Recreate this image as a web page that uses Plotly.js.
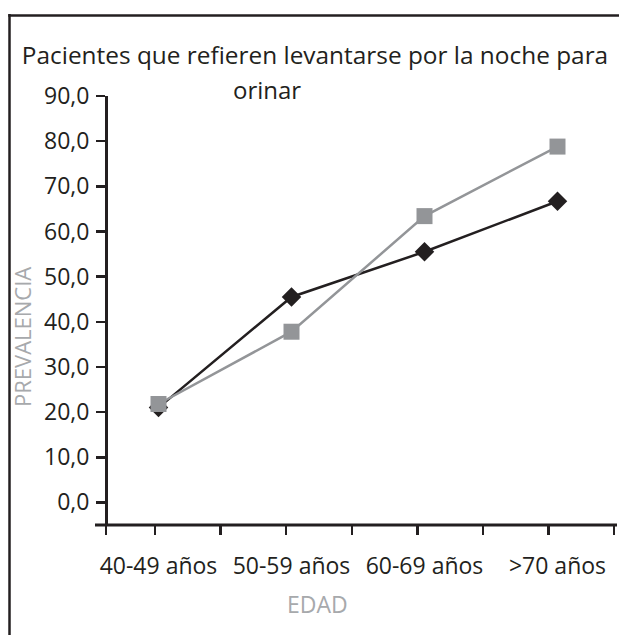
<!DOCTYPE html>
<html>
<head>
<meta charset="utf-8">
<script src="https://cdn.plot.ly/plotly-3.0.1.min.js"></script>
<style>
  html, body { margin: 0; padding: 0; background: #fff; overflow: hidden; }
  #chart { width: 619px; height: 635px; }
</style>
</head>
<body>
<div id="chart"></div>
<script>
const categorias = ['40-49 años', '50-59 años', '60-69 años', '>70 años'];
const serieNegra = [21.0, 45.5, 55.5, 66.7];
const serieGris = [21.8, 37.8, 63.4, 78.8];
const yTicks = [0, 10, 20, 30, 40, 50, 60, 70, 80, 90];
const tituloLinea1 = 'Pacientes que refieren levantarse por la noche para';
const tituloLinea2 = 'orinar';
const tituloY = 'PREVALENCIA';
const tituloX = 'EDAD';

const negro = '#231f20';
const gris = '#939598';
const grisTexto = '#a7a9ac';
const fuente = 'Open Sans, Lato, sans-serif';

// plot area: x from 95 to 619 px, y from 96 to 525 px
const L = 95, R = 619, T = 96, B = 525, W = 619, H = 635;
const pw = R - L, ph = B - T;
const px = v => (v - L) / pw;       // page pixel -> paper x
const py = v => (B - v) / ph;       // page pixel -> paper y

// x-axis tick marks (separate axis, pixel-offset units from the left edge)
const tickMarks = [11, 60, 125.6, 191.2, 256.8, 322.4, 388, 453.6, 519.2];

const traces = [
  {
    x: categorias, y: serieNegra, type: 'scatter', mode: 'lines+markers',
    line: { color: negro, width: 2.5 },
    marker: { symbol: 'diamond', size: 15, color: negro },
    showlegend: false, hoverinfo: 'skip'
  },
  {
    x: categorias, y: serieGris, type: 'scatter', mode: 'lines+markers',
    line: { color: gris, width: 2.5 },
    marker: { symbol: 'square', size: 16, color: gris },
    showlegend: false, hoverinfo: 'skip'
  },
  { x: [], y: [], xaxis: 'x2', yaxis: 'y', type: 'scatter', mode: 'markers', showlegend: false, hoverinfo: 'skip' }
];

const layout = {
  width: W, height: H,
  margin: { l: L, r: W - R, t: T, b: H - B, pad: 0 },
  paper_bgcolor: '#ffffff', plot_bgcolor: 'rgba(0,0,0,0)',
  separators: ',.',
  font: { family: fuente, color: negro, size: 20 },
  showlegend: false,
  title: {
    text: tituloLinea1,
    font: { family: fuente, size: 24.4, color: negro },
    x: 315 / W, xanchor: 'center', xref: 'container',
    y: 1 - 55 / H, yanchor: 'middle', yref: 'container'
  },
  xaxis: {
    type: 'category',
    range: [-(158.5 - L) / 133, -(158.5 - L) / 133 + pw / 133],
    showline: false, ticks: '', showgrid: false, zeroline: false,
    tickfont: { family: fuente, size: 23, color: negro },
    ticklabelstandoff: 25,
    fixedrange: true
  },
  xaxis2: {
    overlaying: 'x', anchor: 'y', side: 'bottom',
    range: [0, pw],
    tickmode: 'array', tickvals: tickMarks,
    showticklabels: false,
    ticks: 'outside', ticklen: 9, tickwidth: 2.5, tickcolor: negro,
    showline: false,
    showgrid: false, zeroline: false, fixedrange: true
  },
  yaxis: {
    range: [-5, 90],
    anchor: 'free', position: (106 - L) / pw,
    tickmode: 'array', tickvals: yTicks, tickformat: '.1f',
    ticks: 'outside', ticklen: 9, tickwidth: 2.5, tickcolor: negro,
    showline: true, linewidth: 3, linecolor: negro,
    showgrid: false, zeroline: false,
    tickfont: { family: fuente, size: 23, color: negro },
    ticklabelstandoff: 2,
    fixedrange: true
  },
  shapes: [
    // outer frame (left and top edges)
    { type: 'line', xref: 'paper', yref: 'paper', x0: px(9.5), x1: px(9.5), y0: py(14), y1: py(660),
      line: { color: negro, width: 2.5 } },
    { type: 'line', xref: 'paper', yref: 'paper', x0: px(8.25), x1: px(619), y0: py(15.5), y1: py(15.5),
      line: { color: negro, width: 2.5 } },
    // x axis line
    { type: 'line', xref: 'paper', yref: 'paper', x0: px(95), x1: px(617), y0: 0, y1: 0,
      line: { color: negro, width: 3 } }
  ],
  annotations: [
    {
      text: tituloLinea2, xref: 'paper', yref: 'paper',
      x: px(267), y: py(89), xanchor: 'center', yanchor: 'middle',
      showarrow: false, font: { family: fuente, size: 24, color: negro }
    },
    {
      text: tituloY, xref: 'paper', yref: 'paper', textangle: -90,
      x: px(22), y: py(337), xanchor: 'center', yanchor: 'middle',
      showarrow: false, font: { family: fuente, size: 22, color: grisTexto }
    },
    {
      text: tituloX, xref: 'paper', yref: 'paper',
      x: px(317), y: py(604), xanchor: 'center', yanchor: 'middle',
      showarrow: false, font: { family: fuente, size: 23, color: grisTexto }
    }
  ]
};

Plotly.newPlot('chart', traces, layout, { staticPlot: true, displayModeBar: false });
</script>
</body>
</html>
